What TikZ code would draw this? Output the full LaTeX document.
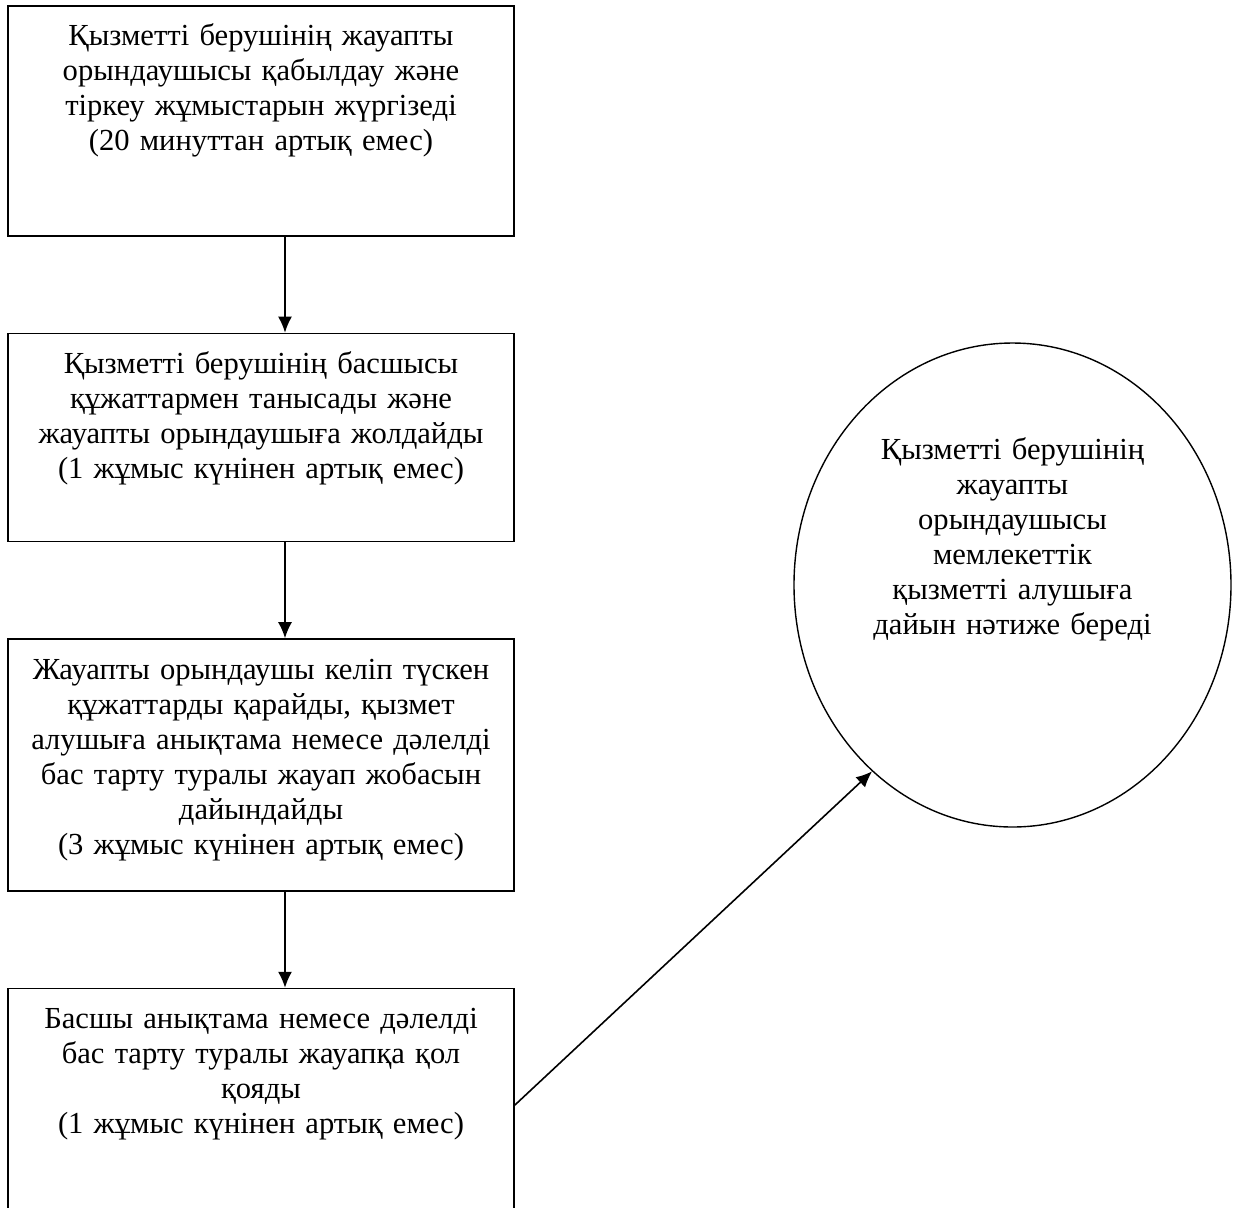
\documentclass[tikz,border=0pt]{standalone}
\usepackage{fontspec}
\setmainfont{Liberation Serif}
\usepackage{tikz}
\usetikzlibrary{positioning,shapes.geometric,arrows.meta}

\tikzset{
  stepbox/.style={draw,line width=0.8pt,inner xsep=0pt,inner ysep=0pt,
    text width=253pt,align=center,text height=20pt,
    font=\fontsize{15.3pt}{17.5pt}\selectfont},
  resnode/.style={draw,ellipse,line width=0.7pt,inner sep=0pt,
    minimum width=218.5pt,minimum height=242pt,text width=140pt,align=center,
    text height=10pt,text depth=136pt,font=\fontsize{15.3pt}{17.5pt}\selectfont},
  flow/.style={line width=0.8pt,-{Latex[length=8pt,width=7pt]}}
}

\begin{document}
\begin{tikzpicture}[x=0.5pt,y=-0.5pt]
            \useasboundingbox (0,0) rectangle (1233,1207);

            \node[stepbox,text depth=95pt,anchor=north] (s1) at (261,5)
                {Қызметті берушінің жауапты\\ орындаушысы қабылдау және\\ тіркеу жұмыстарын жүргізеді\\ (20 минуттан артық емес)};
            \node[stepbox,text depth=84pt,below=48pt of s1] (s2)
                {Қызметті берушінің басшысы\\ құжаттармен танысады және\\ жауапты орындаушыға жолдайды\\ (1 жұмыс күнінен артық емес)};
            \node[stepbox,text depth=106pt,below=48pt of s2] (s3)
                {Жауапты орындаушы келіп түскен\\ құжаттарды қарайды, қызмет\\ алушыға анықтама немесе дәлелді\\ бас тарту туралы жауап жобасын\\ дайындайды\\ (3 жұмыс күнінен артық емес)};
            \node[stepbox,text depth=90.5pt,below=48pt of s3] (s4)
                {Басшы анықтама немесе дәлелді\\ бас тарту туралы жауапқа қол\\ қояды\\ (1 жұмыс күнінен артық емес)};

            \node[resnode] (res) at (1012.5,585)
                {Қызметті берушінің\\ жауапты\\ орындаушысы\\ мемлекеттік\\ қызметті алушыға\\ дайын нәтиже береді};

            \draw[flow] ([xshift=12pt]s1.south) -- ([xshift=12pt]s2.north);
            \draw[flow] ([xshift=12pt]s2.south) -- ([xshift=12pt]s3.north);
            \draw[flow] ([xshift=12pt]s3.south) -- ([xshift=12pt]s4.north);
            \draw[flow] ([yshift=-3pt]s4.east) -- (res.233);
        \end{tikzpicture}
\end{document}
